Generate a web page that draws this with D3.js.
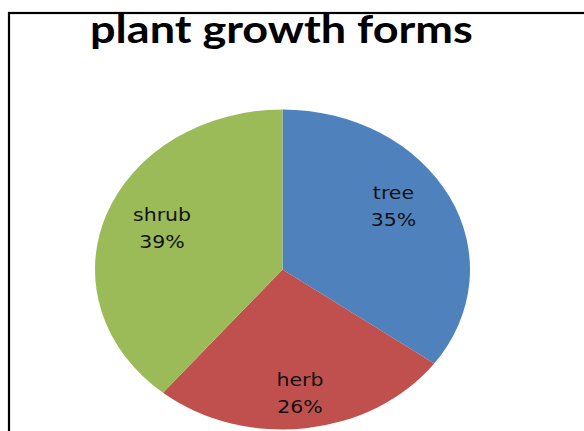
<!DOCTYPE html>
<html>
<head>
<meta charset="utf-8">
<script src="https://cdn.jsdelivr.net/npm/d3@7"></script>
<style>
  html, body { margin: 0; padding: 0; background: #fff; }
  svg { display: block; }
</style>
</head>
<body>
<svg id="chart" width="584" height="431"></svg>
<script>
// Chart data
const title = "plant growth forms";
const categories = ["tree", "herb", "shrub"];
const values = [35, 26, 39];
const colors = ["#4F81BD", "#C0504D", "#9BBB59"];

const W = 584, H = 431;
const svg = d3.select("#chart");

// Frame around the chart area (right and bottom edges fall outside the view)
svg.append("rect")
  .attr("x", 9).attr("y", 13)
  .attr("width", 700).attr("height", 600)
  .attr("fill", "#fff")
  .attr("stroke", "#000")
  .attr("stroke-width", 2.2);

// Title, fitted to its width
const titleText = svg.append("text")
  .attr("x", 0).attr("y", 43)
  .attr("font-family", "Lato, 'Open Sans', sans-serif")
  .attr("font-weight", 700)
  .attr("font-size", 39)
  .attr("fill", "#000")
  .text(title);
const tw = titleText.node().getComputedTextLength();
const titleWidth = 383, titleLeft = 90;
titleText.attr("transform", `translate(${titleLeft},0) scale(${titleWidth / tw},1)`);

// Pie geometry: slightly flattened ellipse
const cx = 282.5, cy = 269.5;
const R = 187.5;
const sy = 160 / R;

const pie = d3.pie().sort(null).value(d => d)(values);
const arc = d3.arc().innerRadius(0).outerRadius(R);
const labelArc = d3.arc().innerRadius(R * 0.7).outerRadius(R * 0.7);

const pieG = svg.append("g")
  .attr("transform", `translate(${cx},${cy}) scale(1,${sy})`);

pieG.selectAll("path")
  .data(pie)
  .join("path")
  .attr("d", arc)
  .attr("fill", (d, i) => colors[i])
  .attr("stroke", "none");

// Data labels: category name and share of the total
const total = d3.sum(values);
const fmt = d3.format(".0%");
const nudge = { tree: [-6, -16], herb: [1, 9], shrub: [3, -7] };
const stretch = 1.17;

const labels = svg.append("g")
  .selectAll("g")
  .data(pie)
  .join("g")
  .attr("transform", (d, i) => {
    const [x, y] = labelArc.centroid(d);
    const n = nudge[categories[i]];
    return `translate(${cx + x + n[0]},${cy + y * sy + n[1]}) scale(${stretch},1)`;
  });

labels.each(function (d, i) {
  const g = d3.select(this);
  const t = g.append("text")
    .attr("text-anchor", "middle")
    .attr("font-family", "'DejaVu Sans', sans-serif")
    .attr("font-size", 17.5)
    .attr("fill", "#111");
  t.append("tspan").attr("x", 0).attr("y", -4).text(categories[i]);
  t.append("tspan").attr("x", 0).attr("y", 23).text(fmt(d.data / total));
});
</script>
</body>
</html>
